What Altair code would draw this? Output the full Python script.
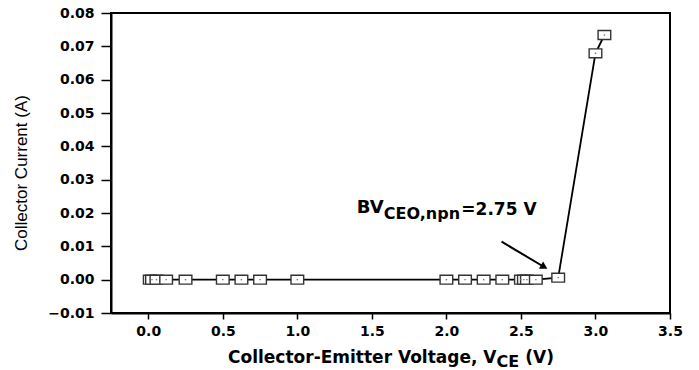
import altair as alt
import pandas as pd

# ---- data ----
vce = [0.01, 0.025, 0.055, 0.12, 0.25, 0.5, 0.625, 0.75, 1.0,
       2.0, 2.125, 2.25, 2.375, 2.5, 2.52, 2.54, 2.6, 2.75, 3.0, 3.06]
ic = [0.0, 0.0, 0.0, 0.0, 0.0, 0.0, 0.0, 0.0, 0.0,
      0.0, 0.0, 0.0, 0.0, 0.0, 0.0, 0.0, 0.0, 0.0006, 0.0679, 0.0734]

x_ticks = [0.0, 0.5, 1.0, 1.5, 2.0, 2.5, 3.0, 3.5]
y_ticks = [-0.01, 0.0, 0.01, 0.02, 0.03, 0.04, 0.05, 0.06, 0.07, 0.08]

# annotation anchors (data coordinates)
arrow_from = [2.37, 0.0114]
arrow_to = [2.656, 0.0038]
label_bv = [1.58, 0.0200]
label_sub = [1.58, 0.0182]
label_sup = [2.10, 0.01955]

df = pd.DataFrame({"vce": vce, "ic": ic})

xs = alt.Scale(domain=[-0.25, 3.5], nice=False, zero=False)
ys = alt.Scale(domain=[-0.01, 0.08], nice=False, zero=False)

X = alt.X("vce:Q", scale=xs,
          axis=alt.Axis(values=x_ticks, format=".1f", title=None, tickSize=6, labelPadding=5,
                        labelOverlap=False, labelFlush=False))
Y = alt.Y("ic:Q", scale=ys,
          axis=alt.Axis(values=y_ticks, format=".2f", title=None, tickSize=10, labelPadding=7,
                        labelOverlap=False, labelFlush=False))

base = alt.Chart(df)

line = base.mark_line(color="black", strokeWidth=1.8).encode(x=X, y=Y)

rect_shape = "M-1,-0.7L1,-0.7L1,0.7L-1,0.7Z"
pts = base.mark_point(shape=rect_shape, size=160, filled=True, fill="white",
                      fillOpacity=1, stroke="#333333", strokeWidth=1.4, opacity=1).encode(x=X, y=Y)
dots = base.mark_point(shape="square", size=2, filled=True, color="#777777", opacity=1).encode(x=X, y=Y)

arrow_df = pd.DataFrame({"vce": [arrow_from[0]], "ic": [arrow_from[1]],
                         "vce2": [arrow_to[0]], "ic2": [arrow_to[1]]})
arrow = alt.Chart(arrow_df).mark_rule(color="black", strokeWidth=2).encode(
    x=X, y=Y, x2="vce2:Q", y2="ic2:Q")
head = alt.Chart(pd.DataFrame({"vce": [arrow_to[0]], "ic": [arrow_to[1]]})).mark_point(
    shape="triangle-right", size=70, angle=30, filled=True, color="black", opacity=1).encode(
    x=X, y=Y)

def txt(pos, s, size, align):
    d = pd.DataFrame({"vce": [pos[0]], "ic": [pos[1]], "t": [s]})
    return alt.Chart(d).mark_text(font="DejaVu Sans", fontWeight="bold", fontSize=size,
                                  align=align, baseline="alphabetic", color="black").encode(
        x=X, y=Y, text="t:N")

t_bv = txt(label_bv, "BV", 18, "right")
t_sub = txt(label_sub, "CEO,npn", 16, "left")
t_sup = txt(label_sup, "=2.75 V", 17, "left")

def ptext(s, x, y, size, align, weight="bold", font="DejaVu Sans", angle=0, baseline="alphabetic"):
    d = pd.DataFrame({"t": [s]})
    kw = dict(font=font, fontWeight=weight, fontSize=size, align=align,
              baseline=baseline, color="black")
    if angle:
        kw["angle"] = angle
    return alt.Chart(d).mark_text(**kw).encode(x=alt.value(x), y=alt.value(y), text="t:N")

xt_main = ptext("Collector-Emitter Voltage, V", 385.5, 350, 17, "right")
xt_sub = ptext("CE", 385.5, 354, 16, "left")
xt_end = ptext("(V)", 414.2, 350, 17, "left")
yt = ptext("Collector Current (A)", -89, 160, 17, "center", weight="normal",
           font="Liberation Sans", angle=270, baseline="middle")

chart = alt.layer(line, pts, dots, arrow, head, t_bv, t_sub, t_sup,
                  xt_main, xt_sub, xt_end, yt).properties(
    width=559, height=300,
    autosize=alt.AutoSizeParams(type="none"),
    padding={"left": 111, "top": 13, "right": 29, "bottom": 57},
    background="white",
).configure_view(stroke="black", strokeWidth=2).configure_axis(
    labelFont="DejaVu Sans", labelFontWeight="bold", labelFontSize=14, labelColor="black",
    tickColor="black", tickWidth=1.5, domainColor="black", domainWidth=2, grid=False,
    labelOverlap=False,
)

chart.save("out.html", embed_options={"renderer": "svg", "actions": False})
